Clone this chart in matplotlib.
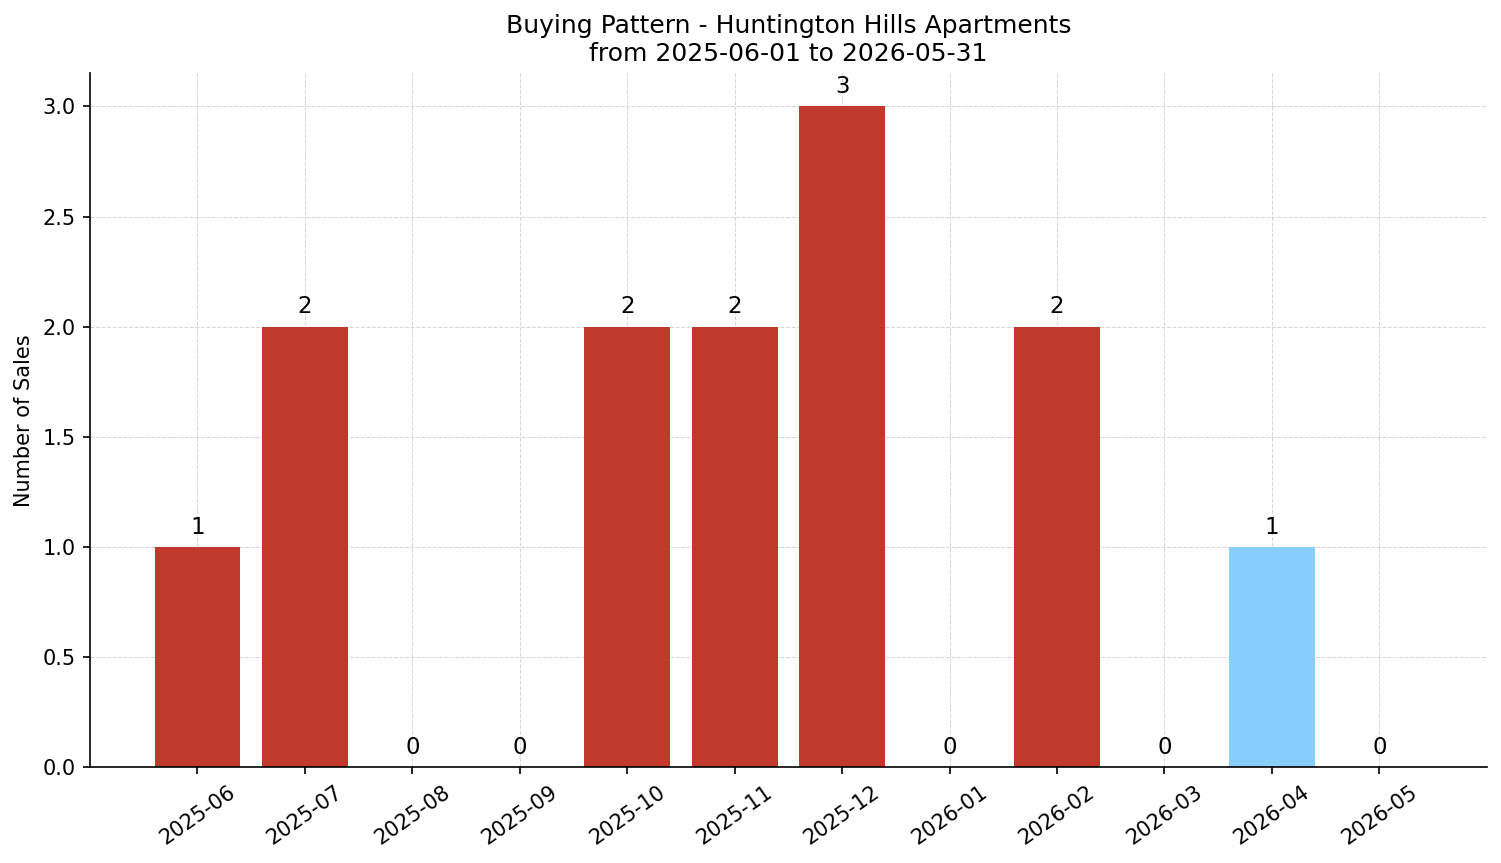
import matplotlib
matplotlib.use('Agg')
import matplotlib.pyplot as plt

months = ['2025-06', '2025-07', '2025-08', '2025-09', '2025-10', '2025-11',
          '2025-12', '2026-01', '2026-02', '2026-03', '2026-04', '2026-05']
sales = [1, 2, 0, 0, 2, 2, 3, 0, 2, 0, 1, 0]
highlight = '2026-04'

colors = ['#87cefa' if m == highlight else '#c0392b' for m in months]

fig, ax = plt.subplots(figsize=(1501 / 150, 863 / 150), dpi=150)
fig.subplots_adjust(left=0.06, right=0.9905, top=0.915, bottom=0.111)

x = range(len(months))
bars = ax.bar(x, sales, width=0.8, color=colors, zorder=2)
for b, v in zip(bars, sales):
    ax.annotate(str(v), (b.get_x() + b.get_width() / 2, v),
                xytext=(0, 4), textcoords='offset points',
                ha='center', va='bottom', fontsize=11)

ax.set_xticks(list(x))
ax.set_xticklabels(months, rotation=35, ha='center')
ax.set_xlim(-1, 12)
ax.set_ylim(0, 3.15)
ax.set_ylabel('Number of Sales')
ax.set_title('Buying Pattern - Huntington Hills Apartments\nfrom 2025-06-01 to 2026-05-31', fontsize=12)
ax.grid(True, linestyle='--', linewidth=0.5, color='#cccccc', alpha=0.8, zorder=0)
ax.spines['top'].set_visible(False)
ax.spines['right'].set_visible(False)

fig.savefig('out.png', dpi=150)
